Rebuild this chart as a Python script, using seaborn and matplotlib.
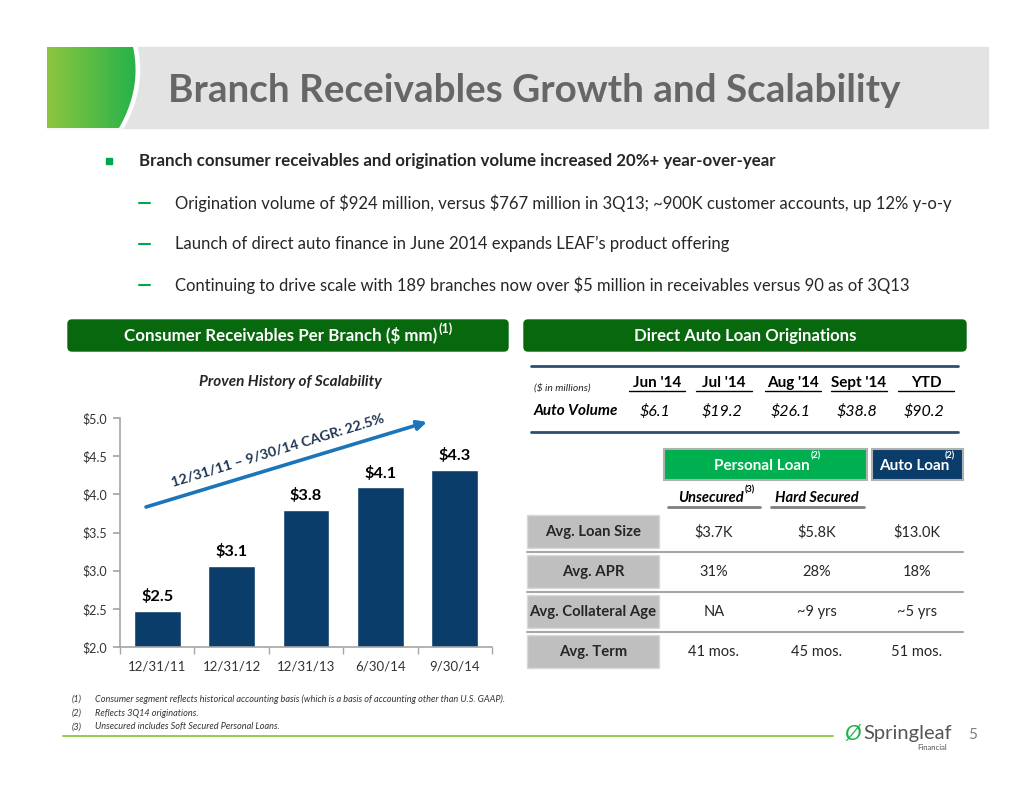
import numpy as np
import matplotlib
matplotlib.use("Agg")
import matplotlib.pyplot as plt
from matplotlib.patches import Rectangle, FancyBboxPatch, Polygon
import seaborn as sns

sns.set_theme(style="white")
plt.rcParams["font.family"] = ["Lato", "DejaVu Sans"]

# ---------------------------
# DATA
# ---------------------------
dates = ["12/31/11", "12/31/12", "12/31/13", "6/30/14", "9/30/14"]
receivables = [2.47, 3.06, 3.80, 4.09, 4.32]
receivable_labels = ["$2.5", "$3.1", "$3.8", "$4.1", "$4.3"]
y_ticks = [2.0, 2.5, 3.0, 3.5, 4.0, 4.5, 5.0]

months = ["Jun '14", "Jul '14", "Aug '14", "Sept '14", "YTD"]
auto_volume = [6.1, 19.2, 26.1, 38.8, 90.2]

row_labels = ["Avg. Loan Size", "Avg. APR", "Avg. Collateral Age", "Avg. Term"]
unsecured = ["$3.7K", "31%", "NA", "41 mos."]
hard_secured = ["$5.8K", "28%", "~9 yrs", "45 mos."]
auto_loan = ["$13.0K", "18%", "~5 yrs", "51 mos."]

bullets = [
    "Origination volume of \\$924 million, versus \\$767 million in 3Q13; ~900K customer accounts, up 12% y-o-y",
    "Launch of direct auto finance in June 2014 expands LEAF\u2019s product offering",
    "Continuing to drive scale with 189 branches now over $5 million in receivables versus 90 as of 3Q13",
]
footnotes = [
    "Consumer segment reflects historical accounting basis (which is a basis of accounting other than U.S. GAAP).",
    "Reflects 3Q14 originations.",
    "Unsecured includes Soft Secured Personal Loans.",
]

NAVY = "#0B3D6B"
DKGREEN = "#08680E"
GREEN = "#00B050"
BLUE = "#1B75BB"
GRAY_BOX = "#BFBFBF"

W, H = 1034, 799
fig = plt.figure(figsize=(W / 100, H / 100), dpi=100)
bg = fig.add_axes([0, 0, 1, 1])
bg.set_xlim(0, W)
bg.set_ylim(H, 0)
bg.axis("off")


def sup(t, s, size=6.5, color="black", dx=1, rise=2):
    # small superscript just after text t, centred near its top edge
    r = fig.canvas.get_renderer()
    bb = t.get_window_extent(r)
    x, y = bg.transData.inverted().transform((bb.x1, bb.y1))
    bg.text(x + dx, y - rise, s, fontsize=size, color=color, fontweight="bold",
            ha="left", va="center")


# ---------------------------
# TITLE BAR
# ---------------------------
bg.add_patch(Rectangle((47, 47), 988 - 47, 81, color="#E3E3E3", zorder=1))
tt = np.linspace(0, 1, 40)
cx = (1 - tt) ** 2 * 133 + 2 * (1 - tt) * tt * 142 + tt ** 2 * 119
cy = (1 - tt) ** 2 * 47 + 2 * (1 - tt) * tt * 88 + tt ** 2 * 128
white = Polygon(np.r_[[[47, 47]], np.c_[cx + 4, cy], [[47, 128]]], color="white", zorder=2)
bg.add_patch(white)
green_shape = Polygon(np.r_[[[47, 47]], np.c_[cx, cy], [[47, 128]]], closed=True,
                      facecolor="none", edgecolor="none", zorder=3)
bg.add_patch(green_shape)
grad = np.linspace(0, 1, 100).reshape(1, -1)
cmap = matplotlib.colors.LinearSegmentedColormap.from_list("g", ["#8CC63F", "#1DB04B"])
im = bg.imshow(grad, extent=(47, 145, 128, 47), cmap=cmap, aspect="auto", zorder=3)
im.set_clip_path(green_shape)
bg.set_xlim(0, W)
bg.set_ylim(H, 0)
bg.text(168, 90, "Branch Receivables Growth and Scalability", fontsize=27.8,
        fontweight="bold", color="#666666", ha="left", va="center", zorder=4)

# ---------------------------
# BULLETS
# ---------------------------
bg.add_patch(Rectangle((106, 158), 6, 6, color="#00A651"))
bg.text(139, 161, "Branch consumer receivables and origination volume increased 20%+ year-over-year",
        fontsize=12.2, fontweight="bold", color="#262626", ha="left", va="center")
for i, b in enumerate(bullets):
    y = 203 + i * 41
    bg.plot([139, 150], [y, y], color="#00A651", lw=1.5)
    bg.text(175, y, b, fontsize=11.95, color="#262626", ha="left", va="center")

# ---------------------------
# SECTION HEADERS
# ---------------------------
for x0, x1 in [(68, 508), (524, 966)]:
    bg.add_patch(FancyBboxPatch((x0, 320), x1 - x0, 31, boxstyle="round,pad=0,rounding_size=4",
                                color=DKGREEN))
t = bg.text(281, 336, "Consumer Receivables Per Branch ($ mm)", fontsize=12.2,
            fontweight="bold", color="white", ha="center", va="center")
sup(t, "(1)", size=9, color="white", dx=1, rise=-1)
bg.text(745, 336, "Direct Auto Loan Originations", fontsize=12.1, fontweight="bold",
        color="white", ha="center", va="center")

# ---------------------------
# BAR CHART
# ---------------------------
bg.text(290, 382, "Proven History of Scalability", fontsize=11, fontweight="bold",
        fontstyle="italic", color="#262626", ha="center", va="center")

ax = fig.add_axes([120 / W, (H - 647) / H, 372 / W, 229 / H])
ax.patch.set_alpha(0)
sns.barplot(x=dates, y=receivables, color=NAVY, saturation=1, width=0.63, ax=ax)
ax.set_ylim(2, 5)
ax.set_xlim(-0.5, 4.5)
ax.set_yticks(y_ticks, [f"${v:.1f}" for v in y_ticks])
ax.bar_label(ax.containers[0], labels=receivable_labels, padding=5, fontsize=11.8,
             fontweight="bold", color="black")
for s in ["top", "right"]:
    ax.spines[s].set_visible(False)
for s in ["left", "bottom"]:
    ax.spines[s].set_color("#A6A6A6")
    ax.spines[s].set_linewidth(1.2)
ax.set_xticks(np.arange(-0.5, 5, 1), minor=True)
ax.tick_params(axis="y", which="major", direction="out", length=5, color="#A6A6A6",
               left=True, labelsize=9, labelcolor="#333333", pad=4)
ax.tick_params(axis="x", which="major", length=0, labelsize=9.5, labelcolor="#333333", pad=10)
ax.tick_params(axis="x", which="minor", direction="out", length=5, color="#A6A6A6", bottom=True)
ax.set_xlabel("")
ax.set_ylabel("")

bg.annotate("", xy=(427, 422), xytext=(146, 507),
            arrowprops=dict(arrowstyle="-|>", color=BLUE, lw=2.6, mutation_scale=14,
                            shrinkA=0, shrinkB=0))
bg.text(278, 450, "12/31/11 \u2013 9/30/14 CAGR: 22.5%", fontsize=10.3, fontweight="bold",
        color="#1F3552", rotation=17, rotation_mode="anchor", ha="center", va="center")

# ---------------------------
# AUTO VOLUME TABLE
# ---------------------------
for y in [366, 432]:
    bg.plot([531, 958], [y, y], color="#2E4D73", lw=2)
bg.text(534, 388, "($ in millions)", fontsize=7.5, fontstyle="italic", color="#262626",
        ha="left", va="center")
bg.text(534, 411, "Auto Volume", fontsize=11, fontweight="bold", fontstyle="italic",
        color="black", ha="left", va="center")
col_x = [657, 724, 793, 859, 926]
for cxp, m, v in zip(col_x, months, auto_volume):
    bg.text(cxp, 383, m, fontsize=11, fontweight="bold", color="black", ha="center", va="center")
    bg.plot([cxp - 28, cxp + 28], [391, 391], color="black", lw=1)
    bg.text(cxp - 2, 411, f"${v:.1f}", fontsize=11.5, fontstyle="italic", color="black",
            ha="center", va="center")

# ---------------------------
# LOAN COMPARISON
# ---------------------------
bg.add_patch(Rectangle((664, 449), 203, 31, facecolor=GREEN, edgecolor="#B0B0B0", lw=1.5))
bg.add_patch(Rectangle((872, 449), 91, 31, facecolor=NAVY, edgecolor="#B0B0B0", lw=1.5))
t = bg.text(762, 466, "Personal Loan", fontsize=11, fontweight="bold", color="white",
            ha="center", va="center")
sup(t, "(2)", size=6.5, color="white", dx=1, rise=3)
t = bg.text(914, 466, "Auto Loan", fontsize=11, fontweight="bold", color="white",
            ha="center", va="center")
sup(t, "(2)", size=6.5, color="white", dx=-5, rise=3)

t = bg.text(711, 498, "Unsecured", fontsize=10.5, fontweight="bold", fontstyle="italic",
            color="black", ha="center", va="center")
sup(t, "(3)", size=6.5, color="black", dx=1, rise=1)
bg.plot([668, 760], [507, 507], color="#7F7F7F", lw=2)
bg.text(817, 498, "Hard Secured", fontsize=10.5, fontweight="bold", fontstyle="italic",
        color="black", ha="center", va="center")
bg.plot([771, 864], [507, 507], color="#7F7F7F", lw=2)

val_x = [714, 817, 917]
for i, lab in enumerate(row_labels):
    y0 = 515 + i * 40
    bg.add_patch(Rectangle((527, y0), 132, 33, facecolor=GRAY_BOX, edgecolor="#D9D9D9", lw=1))
    bg.text(593, y0 + 17, lab, fontsize=10.7, fontweight="bold", color="#262626",
            ha="center", va="center")
    for xv, col in zip(val_x, [unsecured, hard_secured, auto_loan]):
        bg.text(xv, y0 + 17, col[i], fontsize=10.5, color="#262626", ha="center", va="center")
    if i < 3:
        bg.plot([527, 963], [y0 + 37, y0 + 37], color="#A6A6A6", lw=1.5)

# ---------------------------
# FOOTNOTES / FOOTER
# ---------------------------
for i, f in enumerate(footnotes):
    y = 699 + i * 14
    bg.text(72, y, f"({i + 1})", fontsize=6.5, fontstyle="italic", color="#333333",
            ha="left", va="center")
    bg.text(95, y, f, fontsize=6.6, fontstyle="italic", color="#333333", ha="left", va="center")
bg.plot([63, 833], [736, 736], color="#8DC63F", lw=1.3)
bg.text(844, 734, "\u00d8", fontsize=16, color="#1DB04B", fontstyle="italic",
        ha="left", va="center")
bg.text(863, 733, "Springleaf", fontsize=14.5, color="#555555", ha="left", va="center")
bg.text(947, 748, "Financial", fontsize=5.5, color="#555555", ha="right", va="center")
bg.text(968, 735, "5", fontsize=11, color="#7F7F7F", ha="left", va="center")

fig.savefig("out.png", dpi=100)
